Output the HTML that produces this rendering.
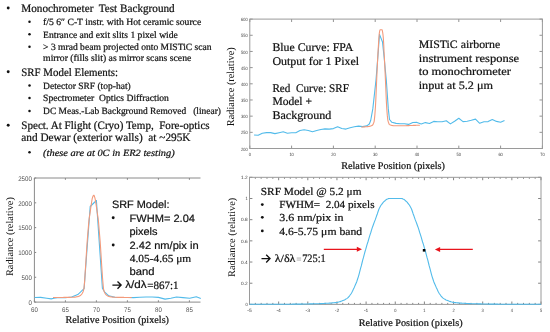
<!DOCTYPE html>
<html><head><meta charset="utf-8"><style>
html,body{margin:0;padding:0;background:#fff;width:550px;height:332px;overflow:hidden}
svg{display:block;will-change:transform}
text{text-rendering:geometricPrecision}
</style></head><body>
<svg width="550" height="332" viewBox="0 0 550 332">
<rect width="550" height="332" fill="#fff"/>
<text xml:space="preserve" x="21.3" y="11.8" style="font-family:'Liberation Serif',serif;font-size:11.4px;" fill="#111" stroke="#111" stroke-width="0.22" textLength="153.40" lengthAdjust="spacingAndGlyphs" >Monochrometer  Test Background</text>
<circle cx="8.2" cy="8.00" r="1.45" fill="#111"/>
<text xml:space="preserve" x="43.1" y="24.9" style="font-family:'Liberation Serif',serif;font-size:9.6px;" fill="#111" stroke="#111" stroke-width="0.22" textLength="158.10" lengthAdjust="spacingAndGlyphs" >f/5 6″ C-T instr. with Hot ceramic source</text>
<circle cx="29.5" cy="21.70" r="1.25" fill="#111"/>
<text xml:space="preserve" x="43.1" y="37.5" style="font-family:'Liberation Serif',serif;font-size:9.6px;" fill="#111" stroke="#111" stroke-width="0.22" textLength="134.70" lengthAdjust="spacingAndGlyphs" >Entrance and exit slits 1 pixel wide</text>
<circle cx="29.5" cy="34.30" r="1.25" fill="#111"/>
<text xml:space="preserve" x="43.1" y="49.9" style="font-family:'Liberation Serif',serif;font-size:9.6px;" fill="#111" stroke="#111" stroke-width="0.22" textLength="168.50" lengthAdjust="spacingAndGlyphs" >&gt; 3 mrad beam projected onto MISTiC scan</text>
<circle cx="29.5" cy="46.70" r="1.25" fill="#111"/>
<text xml:space="preserve" x="43.1" y="60.5" style="font-family:'Liberation Serif',serif;font-size:9.6px;" fill="#111" stroke="#111" stroke-width="0.22" textLength="148.20" lengthAdjust="spacingAndGlyphs" >mirror (fills slit) as mirror scans scene</text>
<text xml:space="preserve" x="21.3" y="75.5" style="font-family:'Liberation Serif',serif;font-size:11.4px;" fill="#111" stroke="#111" stroke-width="0.22" textLength="96.70" lengthAdjust="spacingAndGlyphs" >SRF Model Elements:</text>
<circle cx="8.2" cy="71.70" r="1.45" fill="#111"/>
<text xml:space="preserve" x="43.1" y="88.7" style="font-family:'Liberation Serif',serif;font-size:9.6px;" fill="#111" stroke="#111" stroke-width="0.22" textLength="87.60" lengthAdjust="spacingAndGlyphs" >Detector SRF (top-hat)</text>
<circle cx="29.5" cy="85.50" r="1.25" fill="#111"/>
<text xml:space="preserve" x="43.1" y="101.3" style="font-family:'Liberation Serif',serif;font-size:9.6px;" fill="#111" stroke="#111" stroke-width="0.22" textLength="125.80" lengthAdjust="spacingAndGlyphs" >Spectrometer  Optics Diffraction</text>
<circle cx="29.5" cy="98.10" r="1.25" fill="#111"/>
<text xml:space="preserve" x="43.1" y="114.3" style="font-family:'Liberation Serif',serif;font-size:9.6px;" fill="#111" stroke="#111" stroke-width="0.22" textLength="177.90" lengthAdjust="spacingAndGlyphs" >DC Meas.-Lab Background Removed   (linear)</text>
<circle cx="29.5" cy="111.10" r="1.25" fill="#111"/>
<text xml:space="preserve" x="21.3" y="129.1" style="font-family:'Liberation Serif',serif;font-size:11.4px;" fill="#111" stroke="#111" stroke-width="0.22" textLength="188.30" lengthAdjust="spacingAndGlyphs" >Spect. At Flight (Cryo) Temp,  Fore-optics</text>
<circle cx="8.2" cy="125.30" r="1.45" fill="#111"/>
<text xml:space="preserve" x="21.3" y="141.3" style="font-family:'Liberation Serif',serif;font-size:11.4px;" fill="#111" stroke="#111" stroke-width="0.22" textLength="169.20" lengthAdjust="spacingAndGlyphs" >and Dewar (exterior walls)  at ~295K</text>
<text xml:space="preserve" x="43.1" y="155.5" style="font-family:'Liberation Serif',serif;font-size:9.6px;font-style:italic;" fill="#111" stroke="#111" stroke-width="0.22" textLength="131.60" lengthAdjust="spacingAndGlyphs" >(these are at 0C in ER2 testing)</text>
<circle cx="29.5" cy="152.30" r="1.25" fill="#111"/>
<line x1="249.80" y1="148.5" x2="249.80" y2="145.6" stroke="#777" stroke-width="0.8"/>
<line x1="249.80" y1="19.1" x2="249.80" y2="22.0" stroke="#777" stroke-width="0.8"/>
<text xml:space="preserve" x="249.80" y="155.8" style="font-family:'Liberation Sans',sans-serif;font-size:4.7px;" fill="#3a3a3a" textLength="2.20" lengthAdjust="spacingAndGlyphs" text-anchor="middle" >0</text>
<line x1="291.60" y1="148.5" x2="291.60" y2="145.6" stroke="#777" stroke-width="0.8"/>
<line x1="291.60" y1="19.1" x2="291.60" y2="22.0" stroke="#777" stroke-width="0.8"/>
<text xml:space="preserve" x="291.60" y="155.8" style="font-family:'Liberation Sans',sans-serif;font-size:4.7px;" fill="#3a3a3a" textLength="4.40" lengthAdjust="spacingAndGlyphs" text-anchor="middle" >10</text>
<line x1="333.40" y1="148.5" x2="333.40" y2="145.6" stroke="#777" stroke-width="0.8"/>
<line x1="333.40" y1="19.1" x2="333.40" y2="22.0" stroke="#777" stroke-width="0.8"/>
<text xml:space="preserve" x="333.40" y="155.8" style="font-family:'Liberation Sans',sans-serif;font-size:4.7px;" fill="#3a3a3a" textLength="4.40" lengthAdjust="spacingAndGlyphs" text-anchor="middle" >20</text>
<line x1="375.20" y1="148.5" x2="375.20" y2="145.6" stroke="#777" stroke-width="0.8"/>
<line x1="375.20" y1="19.1" x2="375.20" y2="22.0" stroke="#777" stroke-width="0.8"/>
<text xml:space="preserve" x="375.20" y="155.8" style="font-family:'Liberation Sans',sans-serif;font-size:4.7px;" fill="#3a3a3a" textLength="4.40" lengthAdjust="spacingAndGlyphs" text-anchor="middle" >30</text>
<line x1="417.00" y1="148.5" x2="417.00" y2="145.6" stroke="#777" stroke-width="0.8"/>
<line x1="417.00" y1="19.1" x2="417.00" y2="22.0" stroke="#777" stroke-width="0.8"/>
<text xml:space="preserve" x="417.00" y="155.8" style="font-family:'Liberation Sans',sans-serif;font-size:4.7px;" fill="#3a3a3a" textLength="4.40" lengthAdjust="spacingAndGlyphs" text-anchor="middle" >40</text>
<line x1="458.80" y1="148.5" x2="458.80" y2="145.6" stroke="#777" stroke-width="0.8"/>
<line x1="458.80" y1="19.1" x2="458.80" y2="22.0" stroke="#777" stroke-width="0.8"/>
<text xml:space="preserve" x="458.80" y="155.8" style="font-family:'Liberation Sans',sans-serif;font-size:4.7px;" fill="#3a3a3a" textLength="4.40" lengthAdjust="spacingAndGlyphs" text-anchor="middle" >50</text>
<line x1="500.60" y1="148.5" x2="500.60" y2="145.6" stroke="#777" stroke-width="0.8"/>
<line x1="500.60" y1="19.1" x2="500.60" y2="22.0" stroke="#777" stroke-width="0.8"/>
<text xml:space="preserve" x="500.60" y="155.8" style="font-family:'Liberation Sans',sans-serif;font-size:4.7px;" fill="#3a3a3a" textLength="4.40" lengthAdjust="spacingAndGlyphs" text-anchor="middle" >60</text>
<line x1="542.40" y1="148.5" x2="542.40" y2="145.6" stroke="#777" stroke-width="0.8"/>
<line x1="542.40" y1="19.1" x2="542.40" y2="22.0" stroke="#777" stroke-width="0.8"/>
<text xml:space="preserve" x="542.40" y="155.8" style="font-family:'Liberation Sans',sans-serif;font-size:4.7px;" fill="#3a3a3a" textLength="4.40" lengthAdjust="spacingAndGlyphs" text-anchor="middle" >70</text>
<line x1="249.8" y1="148.50" x2="252.70000000000002" y2="148.50" stroke="#777" stroke-width="0.8"/>
<line x1="542.4" y1="148.50" x2="539.5" y2="148.50" stroke="#777" stroke-width="0.8"/>
<text xml:space="preserve" x="247.60" y="150.6" style="font-family:'Liberation Sans',sans-serif;font-size:4.7px;" fill="#3a3a3a" textLength="6.51" lengthAdjust="spacingAndGlyphs" text-anchor="end" >200</text>
<line x1="249.8" y1="132.33" x2="252.70000000000002" y2="132.33" stroke="#777" stroke-width="0.8"/>
<line x1="542.4" y1="132.33" x2="539.5" y2="132.33" stroke="#777" stroke-width="0.8"/>
<text xml:space="preserve" x="247.60" y="134.425" style="font-family:'Liberation Sans',sans-serif;font-size:4.7px;" fill="#3a3a3a" textLength="6.51" lengthAdjust="spacingAndGlyphs" text-anchor="end" >250</text>
<line x1="249.8" y1="116.15" x2="252.70000000000002" y2="116.15" stroke="#777" stroke-width="0.8"/>
<line x1="542.4" y1="116.15" x2="539.5" y2="116.15" stroke="#777" stroke-width="0.8"/>
<text xml:space="preserve" x="247.60" y="118.25" style="font-family:'Liberation Sans',sans-serif;font-size:4.7px;" fill="#3a3a3a" textLength="6.51" lengthAdjust="spacingAndGlyphs" text-anchor="end" >300</text>
<line x1="249.8" y1="99.97" x2="252.70000000000002" y2="99.97" stroke="#777" stroke-width="0.8"/>
<line x1="542.4" y1="99.97" x2="539.5" y2="99.97" stroke="#777" stroke-width="0.8"/>
<text xml:space="preserve" x="247.60" y="102.07499999999999" style="font-family:'Liberation Sans',sans-serif;font-size:4.7px;" fill="#3a3a3a" textLength="6.51" lengthAdjust="spacingAndGlyphs" text-anchor="end" >350</text>
<line x1="249.8" y1="83.80" x2="252.70000000000002" y2="83.80" stroke="#777" stroke-width="0.8"/>
<line x1="542.4" y1="83.80" x2="539.5" y2="83.80" stroke="#777" stroke-width="0.8"/>
<text xml:space="preserve" x="247.60" y="85.9" style="font-family:'Liberation Sans',sans-serif;font-size:4.7px;" fill="#3a3a3a" textLength="6.51" lengthAdjust="spacingAndGlyphs" text-anchor="end" >400</text>
<line x1="249.8" y1="67.62" x2="252.70000000000002" y2="67.62" stroke="#777" stroke-width="0.8"/>
<line x1="542.4" y1="67.62" x2="539.5" y2="67.62" stroke="#777" stroke-width="0.8"/>
<text xml:space="preserve" x="247.60" y="69.725" style="font-family:'Liberation Sans',sans-serif;font-size:4.7px;" fill="#3a3a3a" textLength="6.51" lengthAdjust="spacingAndGlyphs" text-anchor="end" >450</text>
<line x1="249.8" y1="51.45" x2="252.70000000000002" y2="51.45" stroke="#777" stroke-width="0.8"/>
<line x1="542.4" y1="51.45" x2="539.5" y2="51.45" stroke="#777" stroke-width="0.8"/>
<text xml:space="preserve" x="247.60" y="53.550000000000004" style="font-family:'Liberation Sans',sans-serif;font-size:4.7px;" fill="#3a3a3a" textLength="6.51" lengthAdjust="spacingAndGlyphs" text-anchor="end" >500</text>
<line x1="249.8" y1="35.28" x2="252.70000000000002" y2="35.28" stroke="#777" stroke-width="0.8"/>
<line x1="542.4" y1="35.28" x2="539.5" y2="35.28" stroke="#777" stroke-width="0.8"/>
<text xml:space="preserve" x="247.60" y="37.37500000000001" style="font-family:'Liberation Sans',sans-serif;font-size:4.7px;" fill="#3a3a3a" textLength="6.51" lengthAdjust="spacingAndGlyphs" text-anchor="end" >550</text>
<line x1="249.8" y1="19.10" x2="252.70000000000002" y2="19.10" stroke="#777" stroke-width="0.8"/>
<line x1="542.4" y1="19.10" x2="539.5" y2="19.10" stroke="#777" stroke-width="0.8"/>
<text xml:space="preserve" x="247.60" y="21.200000000000003" style="font-family:'Liberation Sans',sans-serif;font-size:4.7px;" fill="#3a3a3a" textLength="6.51" lengthAdjust="spacingAndGlyphs" text-anchor="end" >600</text>
<rect x="249.8" y="19.1" width="292.60" height="129.40" fill="none" stroke="#9a9a9a" stroke-width="1"/>
<polyline points="254.1,135 258.2,135.2 262.3,133.2 266.5,132.6 270.7,132.6 274.9,133.6 279.1,132.7 283.2,131.8 287.4,133.2 291.6,132.7 295.8,132.7 300,130.5 304.1,129.8 308.3,130.5 312.5,131.8 316.7,130.5 320.9,129.5 325,128.9 329.2,129.1 333.4,128.6 337.6,126.7 341.8,128.5 346,129.1 350.1,127.7 354.3,126.8 358.5,126.1 362.7,126.6 366.8,125.9 369.3,124.0 370.7,120.5 372.8,108.9 376,80 378,55 379.5,34.4 382.5,42 384.1,57 386.3,80 388.3,108.9 389.5,119.5 391.9,122.3 396.1,123.4 400.3,123.7 404.5,123.8 408.6,124.4 412.8,122.5 417,122.4 421.2,124 425.4,122.6 429.5,123.5 433.7,121.4 437.9,121.8 442.1,121.8 446.3,120.7 450.4,123.9 454.6,121.2 458.8,118.3 463,121.6 467.2,121.2 471.3,120.3 475.5,119.1 479.7,123.3 483.9,121.8 488.1,121.6 492.3,119.5 496.5,121.4 500.6,122.3 504.5,120.6" fill="none" stroke="#52BBEA" stroke-width="1.1" stroke-linejoin="round"/>
<polyline points="361.4,127.1 361.7,127.1 362.0,127.0 362.3,127.0 362.6,127.0 362.9,127.0 363.2,127.0 363.5,127.0 363.8,126.9 364.1,126.9 364.3,126.9 364.6,126.9 364.9,126.9 365.2,126.8 365.5,126.8 365.8,126.8 366.1,126.8 366.4,126.7 366.7,126.7 367.0,126.7 367.3,126.7 367.6,126.6 367.9,126.6 368.2,126.6 368.5,126.5 368.8,126.5 369.1,126.4 369.3,126.4 369.6,126.3 369.9,126.2 370.2,126.2 370.5,126.1 370.8,126.0 371.1,125.9 371.4,125.7 371.7,125.6 372.0,125.5 372.3,125.3 372.6,125.0 372.9,124.7 373.2,124.1 373.5,123.4 373.8,122.6 374.1,121.6 374.3,120.1 374.6,117.6 374.9,114.5 375.2,110.3 375.5,106.0 375.8,100.1 376.1,93.2 376.4,85.9 376.7,78.9 377.0,72.5 377.3,66.3 377.6,60.2 377.9,54.4 378.2,49.5 378.5,44.2 378.8,39.0 379.1,35.7 379.3,33.3 379.6,31.5 379.9,30.2 380.2,29.8 380.5,29.8 380.8,29.8 381.1,29.8 381.4,29.8 381.7,29.7 382.0,29.8 382.3,30.5 382.6,32.0 382.9,34.0 383.2,36.7 383.5,40.6 383.8,46.0 384.0,51.2 384.3,56.3 384.6,62.3 384.9,68.4 385.2,74.6 385.5,81.3 385.8,88.4 386.1,95.6 386.4,102.2 386.7,107.4 387.0,111.6 387.3,115.4 387.6,118.3 387.9,120.3 388.2,121.6 388.5,122.5 388.8,123.2 389.0,123.9 389.3,124.3 389.6,124.6 389.9,124.8 390.2,124.9 390.5,125.0 390.8,125.1 391.1,125.2 391.4,125.3 391.7,125.4 392.0,125.5 392.3,125.5 392.6,125.6 392.9,125.6 393.2,125.7 393.5,125.7 393.8,125.7 394.0,125.7 394.3,125.7 394.6,125.7 394.9,125.8 395.2,125.8 395.5,125.8 395.8,125.8 396.1,125.8 396.4,125.8 396.7,125.8 397.0,125.8 397.3,125.8 397.6,125.8 397.9,125.8 398.2,125.8 398.5,125.8 398.8,125.8 399.0,125.8 399.3,125.8 399.6,125.8 399.9,125.8 400.2,125.8 400.5,125.8 400.8,125.8 401.1,125.8 401.4,125.8 401.7,125.8 402.0,125.8 402.3,125.7 402.6,125.7 402.9,125.7 403.2,125.7 403.5,125.7 403.8,125.7 404.0,125.7 404.3,125.7 404.6,125.7 404.9,125.7 405.2,125.7 405.5,125.7 405.8,125.7 406.1,125.7 406.4,125.7 406.7,125.6 407.0,125.6 407.3,125.6 407.6,125.6 407.9,125.6 408.2,125.6 408.5,125.6 408.8,125.6 409.0,125.6 409.3,125.6 409.6,125.5 409.9,125.5 410.2,125.5 410.5,125.5 410.8,125.5 411.1,125.5 411.4,125.5 411.7,125.5 412.0,125.5 412.3,125.5 412.6,125.5 412.9,125.4 413.2,125.4 413.5,125.4 413.8,125.4 414.0,125.4 414.3,125.4 414.6,125.4 414.9,125.4 415.2,125.4 415.5,125.4 415.8,125.3 416.1,125.3 416.4,125.3 416.7,125.3 417.0,125.3 417.3,125.3 417.6,125.3 417.9,125.3 418.2,125.3 418.5,125.3 418.7,125.2 419.0,125.2 419.3,125.2 419.6,125.2 419.9,125.2" fill="none" stroke="#F39A7B" stroke-width="1.1" stroke-linejoin="round"/>
<text xml:space="preserve" x="272.4" y="51.3" style="font-family:'Liberation Serif',serif;font-size:11.7px;" fill="#111" stroke="#111" stroke-width="0.22" textLength="80.90" lengthAdjust="spacingAndGlyphs" >Blue Curve: FPA</text>
<text xml:space="preserve" x="272.4" y="64.6" style="font-family:'Liberation Serif',serif;font-size:11.7px;" fill="#111" stroke="#111" stroke-width="0.22" textLength="86.80" lengthAdjust="spacingAndGlyphs" >Output for 1 Pixel</text>
<text xml:space="preserve" x="272.4" y="91.7" style="font-family:'Liberation Serif',serif;font-size:11.7px;" fill="#111" stroke="#111" stroke-width="0.22" textLength="76.60" lengthAdjust="spacingAndGlyphs" >Red  Curve: SRF</text>
<text xml:space="preserve" x="272.4" y="105.3" style="font-family:'Liberation Serif',serif;font-size:11.7px;" fill="#111" stroke="#111" stroke-width="0.22" textLength="39.60" lengthAdjust="spacingAndGlyphs" >Model +</text>
<text xml:space="preserve" x="272.4" y="118.6" style="font-family:'Liberation Serif',serif;font-size:11.7px;" fill="#111" stroke="#111" stroke-width="0.22" textLength="58.90" lengthAdjust="spacingAndGlyphs" >Background</text>
<text xml:space="preserve" x="418.7" y="47.9" style="font-family:'Liberation Serif',serif;font-size:11.4px;" fill="#111" stroke="#111" stroke-width="0.22" textLength="81.50" lengthAdjust="spacingAndGlyphs" >MISTiC airborne</text>
<text xml:space="preserve" x="418.7" y="61.5" style="font-family:'Liberation Serif',serif;font-size:11.4px;" fill="#111" stroke="#111" stroke-width="0.22" textLength="100.50" lengthAdjust="spacingAndGlyphs" >instrument response</text>
<text xml:space="preserve" x="418.7" y="75.0" style="font-family:'Liberation Serif',serif;font-size:11.4px;" fill="#111" stroke="#111" stroke-width="0.22" textLength="92.30" lengthAdjust="spacingAndGlyphs" >to monochrometer</text>
<text xml:space="preserve" x="418.7" y="88.6" style="font-family:'Liberation Serif',serif;font-size:11.4px;" fill="#111" stroke="#111" stroke-width="0.22" textLength="74.30" lengthAdjust="spacingAndGlyphs" >input at 5.2 μm</text>
<text xml:space="preserve" x="341.2" y="169.2" style="font-family:'Liberation Serif',serif;font-size:10.3px;" fill="#111" stroke="#111" stroke-width="0.22" textLength="103.80" lengthAdjust="spacingAndGlyphs" >Relative Position (pixels)</text>
<text transform="translate(234.3,126.2) rotate(-90)" style="font-family:'Liberation Serif',serif;font-size:10.6px" fill="#111" textLength="79" lengthAdjust="spacingAndGlyphs">Radiance (relative)</text>
<line x1="34.40" y1="302.1" x2="34.40" y2="300.3" stroke="#666" stroke-width="0.8"/>
<line x1="34.40" y1="178.00000000000003" x2="34.40" y2="179.80000000000004" stroke="#666" stroke-width="0.8"/>
<text xml:space="preserve" x="34.40" y="311.6" style="font-family:'Liberation Sans',sans-serif;font-size:6.7px;" fill="#505050" textLength="6.80" lengthAdjust="spacingAndGlyphs" text-anchor="middle" >60</text>
<line x1="65.40" y1="302.1" x2="65.40" y2="300.3" stroke="#666" stroke-width="0.8"/>
<line x1="65.40" y1="178.00000000000003" x2="65.40" y2="179.80000000000004" stroke="#666" stroke-width="0.8"/>
<text xml:space="preserve" x="65.40" y="311.6" style="font-family:'Liberation Sans',sans-serif;font-size:6.7px;" fill="#505050" textLength="6.80" lengthAdjust="spacingAndGlyphs" text-anchor="middle" >65</text>
<line x1="96.40" y1="302.1" x2="96.40" y2="300.3" stroke="#666" stroke-width="0.8"/>
<line x1="96.40" y1="178.00000000000003" x2="96.40" y2="179.80000000000004" stroke="#666" stroke-width="0.8"/>
<text xml:space="preserve" x="96.40" y="311.6" style="font-family:'Liberation Sans',sans-serif;font-size:6.7px;" fill="#505050" textLength="6.80" lengthAdjust="spacingAndGlyphs" text-anchor="middle" >70</text>
<line x1="127.40" y1="302.1" x2="127.40" y2="300.3" stroke="#666" stroke-width="0.8"/>
<line x1="127.40" y1="178.00000000000003" x2="127.40" y2="179.80000000000004" stroke="#666" stroke-width="0.8"/>
<text xml:space="preserve" x="127.40" y="311.6" style="font-family:'Liberation Sans',sans-serif;font-size:6.7px;" fill="#505050" textLength="6.80" lengthAdjust="spacingAndGlyphs" text-anchor="middle" >75</text>
<line x1="158.40" y1="302.1" x2="158.40" y2="300.3" stroke="#666" stroke-width="0.8"/>
<line x1="158.40" y1="178.00000000000003" x2="158.40" y2="179.80000000000004" stroke="#666" stroke-width="0.8"/>
<text xml:space="preserve" x="158.40" y="311.6" style="font-family:'Liberation Sans',sans-serif;font-size:6.7px;" fill="#505050" textLength="6.80" lengthAdjust="spacingAndGlyphs" text-anchor="middle" >80</text>
<line x1="189.40" y1="302.1" x2="189.40" y2="300.3" stroke="#666" stroke-width="0.8"/>
<line x1="189.40" y1="178.00000000000003" x2="189.40" y2="179.80000000000004" stroke="#666" stroke-width="0.8"/>
<text xml:space="preserve" x="189.40" y="311.6" style="font-family:'Liberation Sans',sans-serif;font-size:6.7px;" fill="#505050" textLength="6.80" lengthAdjust="spacingAndGlyphs" text-anchor="middle" >85</text>
<line x1="34.4" y1="302.10" x2="36.199999999999996" y2="302.10" stroke="#666" stroke-width="0.8"/>
<text xml:space="preserve" x="31.80" y="304.8" style="font-family:'Liberation Sans',sans-serif;font-size:6.7px;" fill="#505050" textLength="3.40" lengthAdjust="spacingAndGlyphs" text-anchor="end" >0</text>
<line x1="34.4" y1="277.28" x2="36.199999999999996" y2="277.28" stroke="#666" stroke-width="0.8"/>
<text xml:space="preserve" x="31.80" y="279.98" style="font-family:'Liberation Sans',sans-serif;font-size:6.7px;" fill="#505050" textLength="10.20" lengthAdjust="spacingAndGlyphs" text-anchor="end" >500</text>
<line x1="34.4" y1="252.46" x2="36.199999999999996" y2="252.46" stroke="#666" stroke-width="0.8"/>
<text xml:space="preserve" x="31.80" y="255.16000000000003" style="font-family:'Liberation Sans',sans-serif;font-size:6.7px;" fill="#505050" textLength="13.60" lengthAdjust="spacingAndGlyphs" text-anchor="end" >1000</text>
<line x1="34.4" y1="227.64" x2="36.199999999999996" y2="227.64" stroke="#666" stroke-width="0.8"/>
<text xml:space="preserve" x="31.80" y="230.34000000000003" style="font-family:'Liberation Sans',sans-serif;font-size:6.7px;" fill="#505050" textLength="13.60" lengthAdjust="spacingAndGlyphs" text-anchor="end" >1500</text>
<line x1="34.4" y1="202.82" x2="36.199999999999996" y2="202.82" stroke="#666" stroke-width="0.8"/>
<text xml:space="preserve" x="31.80" y="205.52000000000004" style="font-family:'Liberation Sans',sans-serif;font-size:6.7px;" fill="#505050" textLength="13.60" lengthAdjust="spacingAndGlyphs" text-anchor="end" >2000</text>
<line x1="34.4" y1="178.00" x2="36.199999999999996" y2="178.00" stroke="#666" stroke-width="0.8"/>
<text xml:space="preserve" x="31.80" y="180.70000000000002" style="font-family:'Liberation Sans',sans-serif;font-size:6.7px;" fill="#505050" textLength="13.60" lengthAdjust="spacingAndGlyphs" text-anchor="end" >2500</text>
<polyline points="200.5,178.00000000000003 34.4,178.00000000000003 34.4,302.1 200.5,302.1" fill="none" stroke="#8a8a8a" stroke-width="1"/>
<polyline points="34.6,297.5 40.6,297.4 46.8,298.3 51.2,298.9 53.9,298.3 59.2,297.5 65.4,297.7 71.6,297.0 77.8,294.6 84.1,288.6 90.2,206.5 96.4,200.5 102.4,288.3 104.5,291.8 108.8,295.8 115,297.3 121.2,297.5 127.4,297.5 133.6,297.6 139.8,297.3 146,297.0 152.2,297.0 158.4,297.4 165.1,299.1 170.8,298.2 176.5,297.0 183,297.6 189.7,298.2 196.3,296.8 200.8,298.4" fill="none" stroke="#52BBEA" stroke-width="1.1" stroke-linejoin="round"/>
<polyline points="53.0,297.5 53.4,297.5 53.8,297.5 54.2,297.5 54.6,297.5 55.0,297.5 55.4,297.5 55.8,297.5 56.2,297.5 56.6,297.5 57.0,297.5 57.4,297.5 57.7,297.5 58.1,297.5 58.5,297.5 58.9,297.5 59.3,297.5 59.7,297.5 60.1,297.5 60.5,297.5 60.9,297.5 61.3,297.5 61.7,297.5 62.1,297.5 62.5,297.5 62.9,297.5 63.3,297.5 63.7,297.4 64.1,297.4 64.5,297.4 64.9,297.4 65.3,297.4 65.7,297.4 66.1,297.4 66.5,297.4 66.8,297.4 67.2,297.4 67.6,297.4 68.0,297.4 68.4,297.4 68.8,297.4 69.2,297.4 69.6,297.4 70.0,297.4 70.4,297.3 70.8,297.3 71.2,297.3 71.6,297.3 72.0,297.3 72.4,297.3 72.8,297.2 73.2,297.2 73.6,297.2 74.0,297.2 74.4,297.1 74.8,297.1 75.2,297.1 75.6,297.0 75.9,297.0 76.3,296.9 76.7,296.8 77.1,296.8 77.5,296.7 77.9,296.6 78.3,296.5 78.7,296.3 79.1,296.2 79.5,296.0 79.9,295.8 80.3,295.5 80.7,295.2 81.1,294.8 81.5,294.4 81.9,293.9 82.3,293.3 82.7,292.6 83.1,291.7 83.5,290.5 83.9,288.7 84.3,285.1 84.7,280.4 85.0,275.2 85.4,269.3 85.8,263.2 86.2,256.7 86.6,250.2 87.0,244.1 87.4,238.8 87.8,234.1 88.2,229.4 88.6,224.4 89.0,220.1 89.4,217.1 89.8,214.6 90.2,211.8 90.6,209.0 91.0,206.2 91.4,203.6 91.8,201.0 92.2,198.7 92.6,197.3 93.0,196.2 93.4,195.4 93.8,195.2 94.2,195.7 94.5,196.6 94.9,197.8 95.3,199.6 95.7,202.1 96.1,204.7 96.5,207.3 96.9,210.2 97.3,213.0 97.7,215.6 98.1,218.3 98.5,221.8 98.9,226.5 99.3,231.5 99.7,236.1 100.1,240.9 100.5,246.6 100.9,252.9 101.3,259.5 101.7,265.8 102.1,271.8 102.5,277.5 102.9,282.4 103.3,286.8 103.6,289.5 104.0,291.0 104.4,292.1 104.8,292.9 105.2,293.6 105.6,294.1 106.0,294.6 106.4,295.0 106.8,295.3 107.2,295.6 107.6,295.9 108.0,296.1 108.4,296.2 108.8,296.4 109.2,296.5 109.6,296.6 110.0,296.7 110.4,296.8 110.8,296.9 111.2,296.9 111.6,297.0 112.0,297.0 112.4,297.1 112.7,297.1 113.1,297.1 113.5,297.2 113.9,297.2 114.3,297.2 114.7,297.2 115.1,297.3 115.5,297.3 115.9,297.3 116.3,297.3 116.7,297.3 117.1,297.3 117.5,297.4 117.9,297.4 118.3,297.4 118.7,297.4 119.1,297.4 119.5,297.4 119.9,297.4 120.3,297.4 120.7,297.4 121.1,297.4 121.5,297.4 121.8,297.4 122.2,297.4 122.6,297.4 123.0,297.4 123.4,297.4 123.8,297.4 124.2,297.5 124.6,297.5 125.0,297.5 125.4,297.5 125.8,297.5 126.2,297.5 126.6,297.5 127.0,297.5 127.4,297.5 127.8,297.5 128.2,297.5 128.6,297.5 129.0,297.5 129.4,297.5 129.8,297.5 130.2,297.5 130.6,297.5 130.9,297.5 131.3,297.5 131.7,297.5" fill="none" stroke="#F39A7B" stroke-width="1.1" stroke-linejoin="round"/>
<text xml:space="preserve" x="111.9" y="208.1" style="font-family:'Liberation Sans',sans-serif;font-size:10.6px;" fill="#111" stroke="#111" stroke-width="0.2" textLength="57.60" lengthAdjust="spacingAndGlyphs" >SRF Model:</text>
<circle cx="113.2" cy="217.7" r="1.45" fill="#111"/>
<text xml:space="preserve" x="129.5" y="221.8" style="font-family:'Liberation Sans',sans-serif;font-size:10.6px;" fill="#111" stroke="#111" stroke-width="0.2" textLength="65.50" lengthAdjust="spacingAndGlyphs" >FWHM= 2.04</text>
<text xml:space="preserve" x="129.5" y="234.6" style="font-family:'Liberation Sans',sans-serif;font-size:10.6px;" fill="#111" stroke="#111" stroke-width="0.2" textLength="28.00" lengthAdjust="spacingAndGlyphs" >pixels</text>
<circle cx="113.2" cy="245.0" r="1.45" fill="#111"/>
<text xml:space="preserve" x="129.5" y="248.7" style="font-family:'Liberation Sans',sans-serif;font-size:10.6px;" fill="#111" stroke="#111" stroke-width="0.2" textLength="69.10" lengthAdjust="spacingAndGlyphs" >2.42 nm/pix in</text>
<text xml:space="preserve" x="129.8" y="262.3" style="font-family:'Liberation Serif',serif;font-size:10.8px;" fill="#111" stroke="#111" stroke-width="0.22" textLength="61.40" lengthAdjust="spacingAndGlyphs" >4.05-4.65 μm</text>
<text xml:space="preserve" x="129.5" y="274.5" style="font-family:'Liberation Sans',sans-serif;font-size:10.6px;" fill="#111" stroke="#111" stroke-width="0.2" textLength="25.00" lengthAdjust="spacingAndGlyphs" >band</text>
<path d="M112.4,285.1 H120.5 M117.5,281.5 L121.1,285.1 L117.5,288.70000000000005" fill="none" stroke="#111" stroke-width="1.35" stroke-linejoin="miter"/>
<text xml:space="preserve" x="125.3" y="288.4" style="font-family:'Liberation Sans',sans-serif;font-size:10.6px;" fill="#111" stroke="#111" stroke-width="0.2" textLength="21.30" lengthAdjust="spacingAndGlyphs" >λ/dλ</text>
<text xml:space="preserve" x="147.2" y="288.6" style="font-family:'Liberation Serif',serif;font-size:11.2px;" fill="#111" stroke="#111" stroke-width="0.22" textLength="31.30" lengthAdjust="spacingAndGlyphs" >=867:1</text>
<text transform="translate(12.7,276.1) rotate(-90)" style="font-family:'Liberation Serif',serif;font-size:10.2px" fill="#111" textLength="79" lengthAdjust="spacingAndGlyphs">Radiance (relative)</text>
<text xml:space="preserve" x="65.5" y="323.2" style="font-family:'Liberation Serif',serif;font-size:10.3px;" fill="#111" stroke="#111" stroke-width="0.22" textLength="103.50" lengthAdjust="spacingAndGlyphs" >Relative Position (pixels)</text>
<line x1="249.50" y1="304.4" x2="249.50" y2="301.5" stroke="#666" stroke-width="0.8"/>
<line x1="249.50" y1="177.32" x2="249.50" y2="180.22" stroke="#666" stroke-width="0.8"/>
<text xml:space="preserve" x="249.50" y="311.79999999999995" style="font-family:'Liberation Sans',sans-serif;font-size:4.7px;" fill="#3a3a3a" textLength="4.40" lengthAdjust="spacingAndGlyphs" text-anchor="middle" >-5</text>
<line x1="255.33" y1="304.4" x2="255.33" y2="302.9" stroke="#666" stroke-width="0.8"/>
<line x1="255.33" y1="177.32" x2="255.33" y2="178.82" stroke="#666" stroke-width="0.8"/>
<line x1="261.16" y1="304.4" x2="261.16" y2="302.9" stroke="#666" stroke-width="0.8"/>
<line x1="261.16" y1="177.32" x2="261.16" y2="178.82" stroke="#666" stroke-width="0.8"/>
<line x1="266.99" y1="304.4" x2="266.99" y2="302.9" stroke="#666" stroke-width="0.8"/>
<line x1="266.99" y1="177.32" x2="266.99" y2="178.82" stroke="#666" stroke-width="0.8"/>
<line x1="272.82" y1="304.4" x2="272.82" y2="302.9" stroke="#666" stroke-width="0.8"/>
<line x1="272.82" y1="177.32" x2="272.82" y2="178.82" stroke="#666" stroke-width="0.8"/>
<line x1="278.65" y1="304.4" x2="278.65" y2="301.5" stroke="#666" stroke-width="0.8"/>
<line x1="278.65" y1="177.32" x2="278.65" y2="180.22" stroke="#666" stroke-width="0.8"/>
<text xml:space="preserve" x="278.65" y="311.79999999999995" style="font-family:'Liberation Sans',sans-serif;font-size:4.7px;" fill="#3a3a3a" textLength="4.40" lengthAdjust="spacingAndGlyphs" text-anchor="middle" >-4</text>
<line x1="284.48" y1="304.4" x2="284.48" y2="302.9" stroke="#666" stroke-width="0.8"/>
<line x1="284.48" y1="177.32" x2="284.48" y2="178.82" stroke="#666" stroke-width="0.8"/>
<line x1="290.31" y1="304.4" x2="290.31" y2="302.9" stroke="#666" stroke-width="0.8"/>
<line x1="290.31" y1="177.32" x2="290.31" y2="178.82" stroke="#666" stroke-width="0.8"/>
<line x1="296.14" y1="304.4" x2="296.14" y2="302.9" stroke="#666" stroke-width="0.8"/>
<line x1="296.14" y1="177.32" x2="296.14" y2="178.82" stroke="#666" stroke-width="0.8"/>
<line x1="301.97" y1="304.4" x2="301.97" y2="302.9" stroke="#666" stroke-width="0.8"/>
<line x1="301.97" y1="177.32" x2="301.97" y2="178.82" stroke="#666" stroke-width="0.8"/>
<line x1="307.80" y1="304.4" x2="307.80" y2="301.5" stroke="#666" stroke-width="0.8"/>
<line x1="307.80" y1="177.32" x2="307.80" y2="180.22" stroke="#666" stroke-width="0.8"/>
<text xml:space="preserve" x="307.80" y="311.79999999999995" style="font-family:'Liberation Sans',sans-serif;font-size:4.7px;" fill="#3a3a3a" textLength="4.40" lengthAdjust="spacingAndGlyphs" text-anchor="middle" >-3</text>
<line x1="313.63" y1="304.4" x2="313.63" y2="302.9" stroke="#666" stroke-width="0.8"/>
<line x1="313.63" y1="177.32" x2="313.63" y2="178.82" stroke="#666" stroke-width="0.8"/>
<line x1="319.46" y1="304.4" x2="319.46" y2="302.9" stroke="#666" stroke-width="0.8"/>
<line x1="319.46" y1="177.32" x2="319.46" y2="178.82" stroke="#666" stroke-width="0.8"/>
<line x1="325.29" y1="304.4" x2="325.29" y2="302.9" stroke="#666" stroke-width="0.8"/>
<line x1="325.29" y1="177.32" x2="325.29" y2="178.82" stroke="#666" stroke-width="0.8"/>
<line x1="331.12" y1="304.4" x2="331.12" y2="302.9" stroke="#666" stroke-width="0.8"/>
<line x1="331.12" y1="177.32" x2="331.12" y2="178.82" stroke="#666" stroke-width="0.8"/>
<line x1="336.95" y1="304.4" x2="336.95" y2="301.5" stroke="#666" stroke-width="0.8"/>
<line x1="336.95" y1="177.32" x2="336.95" y2="180.22" stroke="#666" stroke-width="0.8"/>
<text xml:space="preserve" x="336.95" y="311.79999999999995" style="font-family:'Liberation Sans',sans-serif;font-size:4.7px;" fill="#3a3a3a" textLength="4.40" lengthAdjust="spacingAndGlyphs" text-anchor="middle" >-2</text>
<line x1="342.78" y1="304.4" x2="342.78" y2="302.9" stroke="#666" stroke-width="0.8"/>
<line x1="342.78" y1="177.32" x2="342.78" y2="178.82" stroke="#666" stroke-width="0.8"/>
<line x1="348.61" y1="304.4" x2="348.61" y2="302.9" stroke="#666" stroke-width="0.8"/>
<line x1="348.61" y1="177.32" x2="348.61" y2="178.82" stroke="#666" stroke-width="0.8"/>
<line x1="354.44" y1="304.4" x2="354.44" y2="302.9" stroke="#666" stroke-width="0.8"/>
<line x1="354.44" y1="177.32" x2="354.44" y2="178.82" stroke="#666" stroke-width="0.8"/>
<line x1="360.27" y1="304.4" x2="360.27" y2="302.9" stroke="#666" stroke-width="0.8"/>
<line x1="360.27" y1="177.32" x2="360.27" y2="178.82" stroke="#666" stroke-width="0.8"/>
<line x1="366.10" y1="304.4" x2="366.10" y2="301.5" stroke="#666" stroke-width="0.8"/>
<line x1="366.10" y1="177.32" x2="366.10" y2="180.22" stroke="#666" stroke-width="0.8"/>
<text xml:space="preserve" x="366.10" y="311.79999999999995" style="font-family:'Liberation Sans',sans-serif;font-size:4.7px;" fill="#3a3a3a" textLength="4.40" lengthAdjust="spacingAndGlyphs" text-anchor="middle" >-1</text>
<line x1="371.93" y1="304.4" x2="371.93" y2="302.9" stroke="#666" stroke-width="0.8"/>
<line x1="371.93" y1="177.32" x2="371.93" y2="178.82" stroke="#666" stroke-width="0.8"/>
<line x1="377.76" y1="304.4" x2="377.76" y2="302.9" stroke="#666" stroke-width="0.8"/>
<line x1="377.76" y1="177.32" x2="377.76" y2="178.82" stroke="#666" stroke-width="0.8"/>
<line x1="383.59" y1="304.4" x2="383.59" y2="302.9" stroke="#666" stroke-width="0.8"/>
<line x1="383.59" y1="177.32" x2="383.59" y2="178.82" stroke="#666" stroke-width="0.8"/>
<line x1="389.42" y1="304.4" x2="389.42" y2="302.9" stroke="#666" stroke-width="0.8"/>
<line x1="389.42" y1="177.32" x2="389.42" y2="178.82" stroke="#666" stroke-width="0.8"/>
<line x1="395.25" y1="304.4" x2="395.25" y2="301.5" stroke="#666" stroke-width="0.8"/>
<line x1="395.25" y1="177.32" x2="395.25" y2="180.22" stroke="#666" stroke-width="0.8"/>
<text xml:space="preserve" x="395.25" y="311.79999999999995" style="font-family:'Liberation Sans',sans-serif;font-size:4.7px;" fill="#3a3a3a" textLength="2.20" lengthAdjust="spacingAndGlyphs" text-anchor="middle" >0</text>
<line x1="401.08" y1="304.4" x2="401.08" y2="302.9" stroke="#666" stroke-width="0.8"/>
<line x1="401.08" y1="177.32" x2="401.08" y2="178.82" stroke="#666" stroke-width="0.8"/>
<line x1="406.91" y1="304.4" x2="406.91" y2="302.9" stroke="#666" stroke-width="0.8"/>
<line x1="406.91" y1="177.32" x2="406.91" y2="178.82" stroke="#666" stroke-width="0.8"/>
<line x1="412.74" y1="304.4" x2="412.74" y2="302.9" stroke="#666" stroke-width="0.8"/>
<line x1="412.74" y1="177.32" x2="412.74" y2="178.82" stroke="#666" stroke-width="0.8"/>
<line x1="418.57" y1="304.4" x2="418.57" y2="302.9" stroke="#666" stroke-width="0.8"/>
<line x1="418.57" y1="177.32" x2="418.57" y2="178.82" stroke="#666" stroke-width="0.8"/>
<line x1="424.40" y1="304.4" x2="424.40" y2="301.5" stroke="#666" stroke-width="0.8"/>
<line x1="424.40" y1="177.32" x2="424.40" y2="180.22" stroke="#666" stroke-width="0.8"/>
<text xml:space="preserve" x="424.40" y="311.79999999999995" style="font-family:'Liberation Sans',sans-serif;font-size:4.7px;" fill="#3a3a3a" textLength="2.20" lengthAdjust="spacingAndGlyphs" text-anchor="middle" >1</text>
<line x1="430.23" y1="304.4" x2="430.23" y2="302.9" stroke="#666" stroke-width="0.8"/>
<line x1="430.23" y1="177.32" x2="430.23" y2="178.82" stroke="#666" stroke-width="0.8"/>
<line x1="436.06" y1="304.4" x2="436.06" y2="302.9" stroke="#666" stroke-width="0.8"/>
<line x1="436.06" y1="177.32" x2="436.06" y2="178.82" stroke="#666" stroke-width="0.8"/>
<line x1="441.89" y1="304.4" x2="441.89" y2="302.9" stroke="#666" stroke-width="0.8"/>
<line x1="441.89" y1="177.32" x2="441.89" y2="178.82" stroke="#666" stroke-width="0.8"/>
<line x1="447.72" y1="304.4" x2="447.72" y2="302.9" stroke="#666" stroke-width="0.8"/>
<line x1="447.72" y1="177.32" x2="447.72" y2="178.82" stroke="#666" stroke-width="0.8"/>
<line x1="453.55" y1="304.4" x2="453.55" y2="301.5" stroke="#666" stroke-width="0.8"/>
<line x1="453.55" y1="177.32" x2="453.55" y2="180.22" stroke="#666" stroke-width="0.8"/>
<text xml:space="preserve" x="453.55" y="311.79999999999995" style="font-family:'Liberation Sans',sans-serif;font-size:4.7px;" fill="#3a3a3a" textLength="2.20" lengthAdjust="spacingAndGlyphs" text-anchor="middle" >2</text>
<line x1="459.38" y1="304.4" x2="459.38" y2="302.9" stroke="#666" stroke-width="0.8"/>
<line x1="459.38" y1="177.32" x2="459.38" y2="178.82" stroke="#666" stroke-width="0.8"/>
<line x1="465.21" y1="304.4" x2="465.21" y2="302.9" stroke="#666" stroke-width="0.8"/>
<line x1="465.21" y1="177.32" x2="465.21" y2="178.82" stroke="#666" stroke-width="0.8"/>
<line x1="471.04" y1="304.4" x2="471.04" y2="302.9" stroke="#666" stroke-width="0.8"/>
<line x1="471.04" y1="177.32" x2="471.04" y2="178.82" stroke="#666" stroke-width="0.8"/>
<line x1="476.87" y1="304.4" x2="476.87" y2="302.9" stroke="#666" stroke-width="0.8"/>
<line x1="476.87" y1="177.32" x2="476.87" y2="178.82" stroke="#666" stroke-width="0.8"/>
<line x1="482.70" y1="304.4" x2="482.70" y2="301.5" stroke="#666" stroke-width="0.8"/>
<line x1="482.70" y1="177.32" x2="482.70" y2="180.22" stroke="#666" stroke-width="0.8"/>
<text xml:space="preserve" x="482.70" y="311.79999999999995" style="font-family:'Liberation Sans',sans-serif;font-size:4.7px;" fill="#3a3a3a" textLength="2.20" lengthAdjust="spacingAndGlyphs" text-anchor="middle" >3</text>
<line x1="488.53" y1="304.4" x2="488.53" y2="302.9" stroke="#666" stroke-width="0.8"/>
<line x1="488.53" y1="177.32" x2="488.53" y2="178.82" stroke="#666" stroke-width="0.8"/>
<line x1="494.36" y1="304.4" x2="494.36" y2="302.9" stroke="#666" stroke-width="0.8"/>
<line x1="494.36" y1="177.32" x2="494.36" y2="178.82" stroke="#666" stroke-width="0.8"/>
<line x1="500.19" y1="304.4" x2="500.19" y2="302.9" stroke="#666" stroke-width="0.8"/>
<line x1="500.19" y1="177.32" x2="500.19" y2="178.82" stroke="#666" stroke-width="0.8"/>
<line x1="506.02" y1="304.4" x2="506.02" y2="302.9" stroke="#666" stroke-width="0.8"/>
<line x1="506.02" y1="177.32" x2="506.02" y2="178.82" stroke="#666" stroke-width="0.8"/>
<line x1="511.85" y1="304.4" x2="511.85" y2="301.5" stroke="#666" stroke-width="0.8"/>
<line x1="511.85" y1="177.32" x2="511.85" y2="180.22" stroke="#666" stroke-width="0.8"/>
<text xml:space="preserve" x="511.85" y="311.79999999999995" style="font-family:'Liberation Sans',sans-serif;font-size:4.7px;" fill="#3a3a3a" textLength="2.20" lengthAdjust="spacingAndGlyphs" text-anchor="middle" >4</text>
<line x1="517.68" y1="304.4" x2="517.68" y2="302.9" stroke="#666" stroke-width="0.8"/>
<line x1="517.68" y1="177.32" x2="517.68" y2="178.82" stroke="#666" stroke-width="0.8"/>
<line x1="523.51" y1="304.4" x2="523.51" y2="302.9" stroke="#666" stroke-width="0.8"/>
<line x1="523.51" y1="177.32" x2="523.51" y2="178.82" stroke="#666" stroke-width="0.8"/>
<line x1="529.34" y1="304.4" x2="529.34" y2="302.9" stroke="#666" stroke-width="0.8"/>
<line x1="529.34" y1="177.32" x2="529.34" y2="178.82" stroke="#666" stroke-width="0.8"/>
<line x1="535.17" y1="304.4" x2="535.17" y2="302.9" stroke="#666" stroke-width="0.8"/>
<line x1="535.17" y1="177.32" x2="535.17" y2="178.82" stroke="#666" stroke-width="0.8"/>
<line x1="541.00" y1="304.4" x2="541.00" y2="301.5" stroke="#666" stroke-width="0.8"/>
<line x1="541.00" y1="177.32" x2="541.00" y2="180.22" stroke="#666" stroke-width="0.8"/>
<text xml:space="preserve" x="541.00" y="311.79999999999995" style="font-family:'Liberation Sans',sans-serif;font-size:4.7px;" fill="#3a3a3a" textLength="2.20" lengthAdjust="spacingAndGlyphs" text-anchor="middle" >5</text>
<line x1="249.5" y1="304.40" x2="252.4" y2="304.40" stroke="#666" stroke-width="0.8"/>
<line x1="541.0" y1="304.40" x2="538.1" y2="304.40" stroke="#666" stroke-width="0.8"/>
<text xml:space="preserve" x="247.70" y="306.2" style="font-family:'Liberation Sans',sans-serif;font-size:4.7px;" fill="#3a3a3a" textLength="2.20" lengthAdjust="spacingAndGlyphs" text-anchor="end" >0</text>
<line x1="249.5" y1="283.22" x2="252.4" y2="283.22" stroke="#666" stroke-width="0.8"/>
<line x1="541.0" y1="283.22" x2="538.1" y2="283.22" stroke="#666" stroke-width="0.8"/>
<text xml:space="preserve" x="247.70" y="285.02" style="font-family:'Liberation Sans',sans-serif;font-size:4.7px;" fill="#3a3a3a" textLength="6.60" lengthAdjust="spacingAndGlyphs" text-anchor="end" >0.2</text>
<line x1="249.5" y1="262.04" x2="252.4" y2="262.04" stroke="#666" stroke-width="0.8"/>
<line x1="541.0" y1="262.04" x2="538.1" y2="262.04" stroke="#666" stroke-width="0.8"/>
<text xml:space="preserve" x="247.70" y="263.84" style="font-family:'Liberation Sans',sans-serif;font-size:4.7px;" fill="#3a3a3a" textLength="6.60" lengthAdjust="spacingAndGlyphs" text-anchor="end" >0.4</text>
<line x1="249.5" y1="240.86" x2="252.4" y2="240.86" stroke="#666" stroke-width="0.8"/>
<line x1="541.0" y1="240.86" x2="538.1" y2="240.86" stroke="#666" stroke-width="0.8"/>
<text xml:space="preserve" x="247.70" y="242.65999999999997" style="font-family:'Liberation Sans',sans-serif;font-size:4.7px;" fill="#3a3a3a" textLength="6.60" lengthAdjust="spacingAndGlyphs" text-anchor="end" >0.6</text>
<line x1="249.5" y1="219.68" x2="252.4" y2="219.68" stroke="#666" stroke-width="0.8"/>
<line x1="541.0" y1="219.68" x2="538.1" y2="219.68" stroke="#666" stroke-width="0.8"/>
<text xml:space="preserve" x="247.70" y="221.47999999999996" style="font-family:'Liberation Sans',sans-serif;font-size:4.7px;" fill="#3a3a3a" textLength="6.60" lengthAdjust="spacingAndGlyphs" text-anchor="end" >0.8</text>
<line x1="249.5" y1="198.50" x2="252.4" y2="198.50" stroke="#666" stroke-width="0.8"/>
<line x1="541.0" y1="198.50" x2="538.1" y2="198.50" stroke="#666" stroke-width="0.8"/>
<text xml:space="preserve" x="247.70" y="200.29999999999998" style="font-family:'Liberation Sans',sans-serif;font-size:4.7px;" fill="#3a3a3a" textLength="2.20" lengthAdjust="spacingAndGlyphs" text-anchor="end" >1</text>
<line x1="249.5" y1="177.32" x2="252.4" y2="177.32" stroke="#666" stroke-width="0.8"/>
<line x1="541.0" y1="177.32" x2="538.1" y2="177.32" stroke="#666" stroke-width="0.8"/>
<text xml:space="preserve" x="247.70" y="179.11999999999995" style="font-family:'Liberation Sans',sans-serif;font-size:4.7px;" fill="#3a3a3a" textLength="6.60" lengthAdjust="spacingAndGlyphs" text-anchor="end" >1.2</text>
<rect x="249.5" y="177.32" width="291.50" height="127.08" fill="none" stroke="#9a9a9a" stroke-width="1"/>
<polyline points="249.5,304.3 250.2,304.3 251.0,304.3 251.7,304.3 252.4,304.3 253.2,304.3 253.9,304.3 254.6,304.3 255.3,304.3 256.1,304.3 256.8,304.3 257.5,304.3 258.3,304.3 259.0,304.3 259.7,304.3 260.5,304.3 261.2,304.3 261.9,304.3 262.7,304.3 263.4,304.3 264.1,304.3 264.8,304.3 265.6,304.3 266.3,304.3 267.0,304.3 267.8,304.3 268.5,304.3 269.2,304.3 270.0,304.3 270.7,304.3 271.4,304.3 272.1,304.3 272.9,304.3 273.6,304.3 274.3,304.3 275.1,304.3 275.8,304.3 276.5,304.3 277.3,304.2 278.0,304.2 278.7,304.2 279.5,304.2 280.2,304.2 280.9,304.2 281.6,304.2 282.4,304.2 283.1,304.2 283.8,304.2 284.6,304.2 285.3,304.2 286.0,304.2 286.8,304.2 287.5,304.2 288.2,304.2 289.0,304.2 289.7,304.2 290.4,304.2 291.1,304.2 291.9,304.2 292.6,304.1 293.3,304.1 294.1,304.1 294.8,304.1 295.5,304.1 296.3,304.1 297.0,304.1 297.7,304.1 298.4,304.1 299.2,304.1 299.9,304.1 300.6,304.1 301.4,304.1 302.1,304.1 302.8,304.0 303.6,304.0 304.3,304.0 305.0,304.0 305.8,304.0 306.5,304.0 307.2,304.0 307.9,304.0 308.7,304.0 309.4,303.9 310.1,303.9 310.9,303.9 311.6,303.9 312.3,303.9 313.1,303.9 313.8,303.8 314.5,303.8 315.3,303.8 316.0,303.8 316.7,303.8 317.4,303.7 318.2,303.7 318.9,303.7 319.6,303.7 320.4,303.6 321.1,303.6 321.8,303.6 322.6,303.5 323.3,303.5 324.0,303.5 324.7,303.4 325.5,303.4 326.2,303.3 326.9,303.3 327.7,303.2 328.4,303.2 329.1,303.1 329.9,303.1 330.6,303.0 331.3,303.0 332.1,302.9 332.8,302.9 333.5,302.8 334.2,302.7 335.0,302.6 335.7,302.6 336.4,302.5 337.2,302.4 337.9,302.2 338.6,302.0 339.4,301.8 340.1,301.6 340.8,301.4 341.6,301.1 342.3,300.8 343.0,300.5 343.7,300.2 344.5,299.9 345.2,299.5 345.9,299.1 346.7,298.6 347.4,298.1 348.1,297.5 348.9,296.7 349.6,295.8 350.3,294.8 351.1,293.7 351.8,292.5 352.5,291.2 353.2,289.6 354.0,288.0 354.7,286.4 355.4,284.8 356.2,283.1 356.9,281.2 357.6,279.0 358.4,276.6 359.1,274.1 359.8,271.4 360.5,268.7 361.3,265.9 362.0,263.0 362.7,260.2 363.5,257.4 364.2,254.6 364.9,252.0 365.7,249.4 366.4,246.9 367.1,244.4 367.9,242.0 368.6,239.6 369.3,237.2 370.0,234.9 370.8,232.5 371.5,230.1 372.2,227.9 373.0,225.7 373.7,223.7 374.4,221.9 375.2,219.9 375.9,217.9 376.6,215.8 377.4,213.7 378.1,211.5 378.8,209.5 379.5,207.9 380.3,206.5 381.0,205.3 381.7,204.3 382.5,203.3 383.2,202.4 383.9,201.7 384.7,201.0 385.4,200.3 386.1,199.7 386.8,199.2 387.6,198.9 388.3,198.6 389.0,198.5 389.8,198.5 390.5,198.5 391.2,198.5 392.0,198.5 392.7,198.5 393.4,198.5 394.2,198.5 394.9,198.5 395.6,198.5 396.3,198.5 397.1,198.5 397.8,198.5 398.5,198.5 399.3,198.5 400.0,198.5 400.7,198.5 401.5,198.5 402.2,198.6 402.9,198.9 403.7,199.2 404.4,199.7 405.1,200.3 405.8,201.0 406.6,201.7 407.3,202.4 408.0,203.3 408.8,204.3 409.5,205.3 410.2,206.5 411.0,207.9 411.7,209.5 412.4,211.5 413.1,213.7 413.9,215.8 414.6,217.9 415.3,219.9 416.1,221.9 416.8,223.7 417.5,225.7 418.3,227.9 419.0,230.1 419.7,232.5 420.5,234.9 421.2,237.2 421.9,239.6 422.6,242.0 423.4,244.4 424.1,246.9 424.8,249.4 425.6,252.0 426.3,254.6 427.0,257.4 427.8,260.2 428.5,263.0 429.2,265.9 430.0,268.7 430.7,271.4 431.4,274.1 432.1,276.6 432.9,279.0 433.6,281.2 434.3,283.1 435.1,284.8 435.8,286.4 436.5,288.0 437.3,289.6 438.0,291.2 438.7,292.5 439.4,293.7 440.2,294.8 440.9,295.8 441.6,296.7 442.4,297.5 443.1,298.1 443.8,298.6 444.6,299.1 445.3,299.5 446.0,299.9 446.8,300.2 447.5,300.5 448.2,300.8 448.9,301.1 449.7,301.4 450.4,301.6 451.1,301.8 451.9,302.0 452.6,302.2 453.3,302.4 454.1,302.5 454.8,302.6 455.5,302.6 456.3,302.7 457.0,302.8 457.7,302.9 458.4,302.9 459.2,303.0 459.9,303.0 460.6,303.1 461.4,303.1 462.1,303.2 462.8,303.2 463.6,303.3 464.3,303.3 465.0,303.4 465.8,303.4 466.5,303.5 467.2,303.5 467.9,303.5 468.7,303.6 469.4,303.6 470.1,303.6 470.9,303.7 471.6,303.7 472.3,303.7 473.1,303.7 473.8,303.8 474.5,303.8 475.2,303.8 476.0,303.8 476.7,303.8 477.4,303.9 478.2,303.9 478.9,303.9 479.6,303.9 480.4,303.9 481.1,303.9 481.8,304.0 482.6,304.0 483.3,304.0 484.0,304.0 484.7,304.0 485.5,304.0 486.2,304.0 486.9,304.0 487.7,304.0 488.4,304.1 489.1,304.1 489.9,304.1 490.6,304.1 491.3,304.1 492.1,304.1 492.8,304.1 493.5,304.1 494.2,304.1 495.0,304.1 495.7,304.1 496.4,304.1 497.2,304.1 497.9,304.1 498.6,304.2 499.4,304.2 500.1,304.2 500.8,304.2 501.5,304.2 502.3,304.2 503.0,304.2 503.7,304.2 504.5,304.2 505.2,304.2 505.9,304.2 506.7,304.2 507.4,304.2 508.1,304.2 508.9,304.2 509.6,304.2 510.3,304.2 511.0,304.2 511.8,304.2 512.5,304.2 513.2,304.2 514.0,304.3 514.7,304.3 515.4,304.3 516.2,304.3 516.9,304.3 517.6,304.3 518.4,304.3 519.1,304.3 519.8,304.3 520.5,304.3 521.3,304.3 522.0,304.3 522.7,304.3 523.5,304.3 524.2,304.3 524.9,304.3 525.7,304.3 526.4,304.3 527.1,304.3 527.8,304.3 528.6,304.3 529.3,304.3 530.0,304.3 530.8,304.3 531.5,304.3 532.2,304.3 533.0,304.3 533.7,304.3 534.4,304.3 535.2,304.3 535.9,304.3 536.6,304.3 537.3,304.3 538.1,304.3 538.8,304.3 539.5,304.3 540.3,304.3 541.0,304.3" fill="none" stroke="#52BBEA" stroke-width="1.1" stroke-linejoin="round"/>
<line x1="323.8" y1="249.3" x2="358" y2="249.3" stroke="#E8141C" stroke-width="1.2"/>
<polygon points="362,249.3 356.8,246.8 356.8,251.8" fill="#E8141C"/>
<line x1="472.8" y1="249.4" x2="438.5" y2="249.4" stroke="#E8141C" stroke-width="1.2"/>
<polygon points="434.9,249.4 440.1,246.9 440.1,251.9" fill="#E8141C"/>
<rect x="422.8" y="249.0" width="2.6" height="2.6" fill="#000"/>
<text xml:space="preserve" x="260.8" y="194.5" style="font-family:'Liberation Serif',serif;font-size:10.8px;" fill="#111" stroke="#111" stroke-width="0.22" textLength="100.70" lengthAdjust="spacingAndGlyphs" >SRF Model @ 5.2 μm</text>
<circle cx="262.3" cy="204.60" r="1.4" fill="#111"/>
<circle cx="262.3" cy="217.30" r="1.4" fill="#111"/>
<circle cx="262.3" cy="230.90" r="1.4" fill="#111"/>
<text xml:space="preserve" x="279.2" y="208.2" style="font-family:'Liberation Serif',serif;font-size:10.8px;" fill="#111" stroke="#111" stroke-width="0.22" textLength="95.30" lengthAdjust="spacingAndGlyphs" >FWHM=  2.04 pixels</text>
<text xml:space="preserve" x="279.2" y="220.9" style="font-family:'Liberation Serif',serif;font-size:10.8px;" fill="#111" stroke="#111" stroke-width="0.22" textLength="64.40" lengthAdjust="spacingAndGlyphs" >3.6 nm/pix in</text>
<text xml:space="preserve" x="279.2" y="234.5" style="font-family:'Liberation Serif',serif;font-size:10.8px;" fill="#111" stroke="#111" stroke-width="0.22" textLength="83.00" lengthAdjust="spacingAndGlyphs" >4.6-5.75 μm band</text>
<path d="M261.5,258.6 H269.4 M266.2,254.8 L270.0,258.6 L266.2,262.40000000000003" fill="none" stroke="#111" stroke-width="1.35" stroke-linejoin="miter"/>
<text xml:space="preserve" x="274.7" y="262.4" style="font-family:'Liberation Serif',serif;font-size:11.0px;" fill="#111" stroke="#111" stroke-width="0.22" textLength="20.80" lengthAdjust="spacingAndGlyphs" >λ/δλ</text>
<rect x="296.7" y="257.6" width="4.4" height="0.9" fill="#aaa"/><rect x="296.7" y="259.6" width="4.4" height="0.9" fill="#aaa"/>
<text xml:space="preserve" x="302.2" y="262.4" style="font-family:'Liberation Serif',serif;font-size:11.4px;" fill="#111" stroke="#111" stroke-width="0.22" textLength="23.60" lengthAdjust="spacingAndGlyphs" >725:1</text>
<text transform="translate(234.5,276.9) rotate(-90)" style="font-family:'Liberation Serif',serif;font-size:10.2px" fill="#111" textLength="79.1" lengthAdjust="spacingAndGlyphs">Radiance (relative)</text>
<text xml:space="preserve" x="358.7" y="325.7" style="font-family:'Liberation Serif',serif;font-size:10.0px;" fill="#111" stroke="#111" stroke-width="0.22" textLength="103.90" lengthAdjust="spacingAndGlyphs" >Relative Position (pixels)</text>
</svg>
</body></html>
